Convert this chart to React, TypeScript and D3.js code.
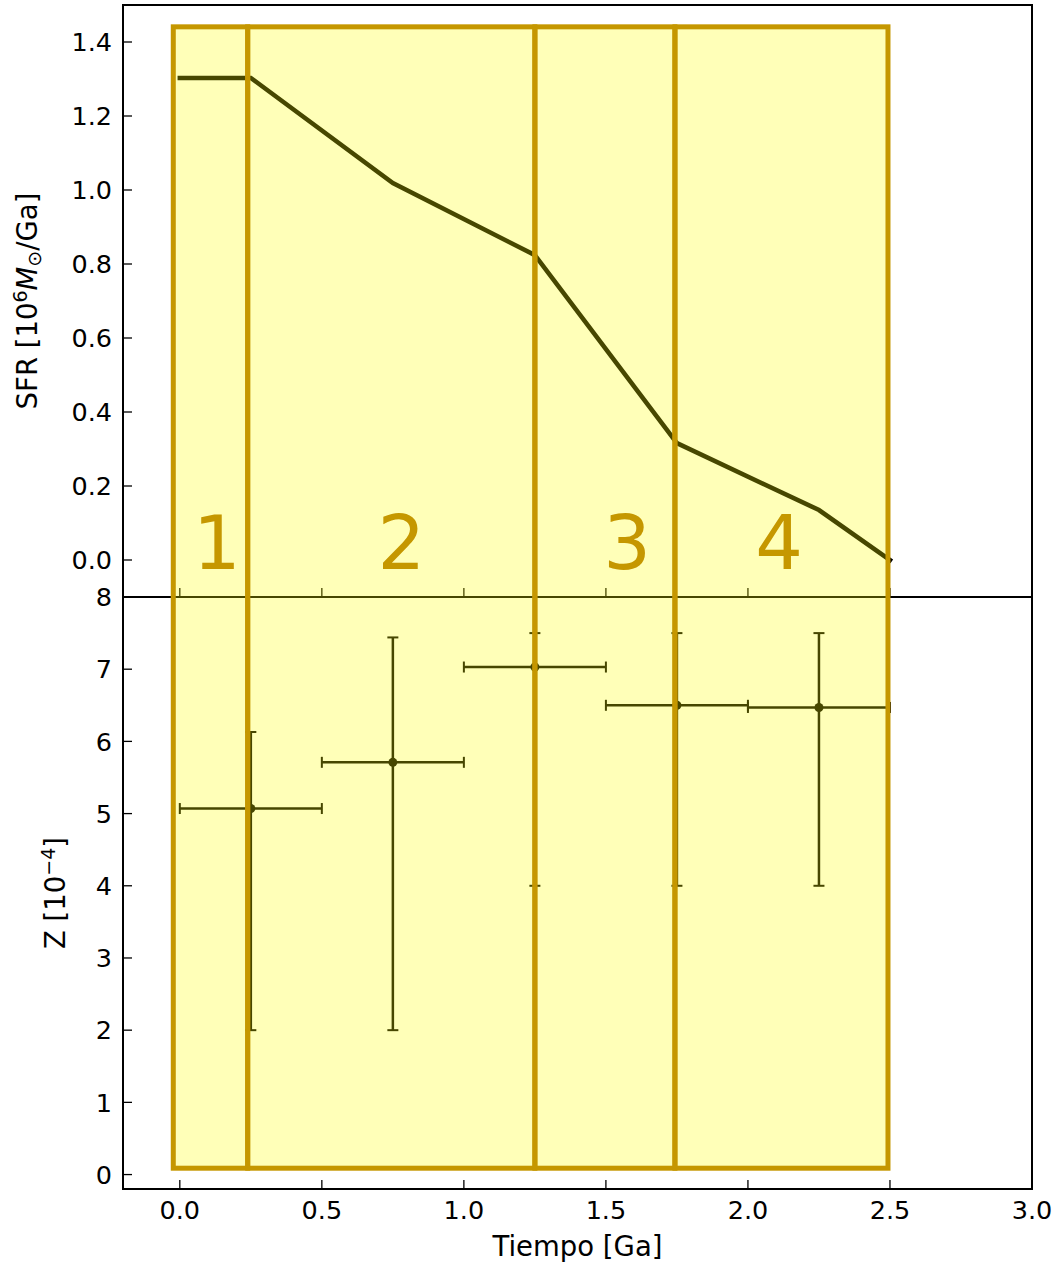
import React from "react";
import * as d3 from "d3";

// ---- data ----
const sfrTime = [0.0, 0.25, 0.75, 1.25, 1.75, 2.25, 2.5];
const sfrValue = [1.303, 1.303, 1.019, 0.824, 0.316, 0.135, 0.0];

const zTime = [0.25, 0.75, 1.25, 1.75, 2.25];
const zValue = [5.07, 5.71, 7.03, 6.5, 6.47];
const zLower = [2.0, 2.0, 4.0, 4.0, 4.0];
const zUpper = [6.13, 7.44, 7.5, 7.5, 7.5];
const zTimeErr = [0.25, 0.25, 0.25, 0.25, 0.25];

const regionBounds = [-0.023, 0.239, 1.25, 1.743, 2.493];
const regionTop = 1.441; // in SFR units
const regionBottom = 0.088; // in Z units
const regionLabels = ["1", "2", "3", "4"];
const regionLabelX = [0.13, 0.78, 1.575, 2.11];
const regionLabelY = -0.024; // in SFR units

const xTicks = [0.0, 0.5, 1.0, 1.5, 2.0, 2.5, 3.0];
const sfrTicks = [0.0, 0.2, 0.4, 0.6, 0.8, 1.0, 1.2, 1.4];
const zTicks = [0, 1, 2, 3, 4, 5, 6, 7, 8];

const FONT = "DejaVu Sans";
const GOLD = "#c59700";

export default function App() {
  const W = 1060;
  const H = 1263;
  const left = 123, right = 1032;
  const topY0 = 5, midY = 597, botY1 = 1189;

  const x = d3.scaleLinear().domain([-0.2, 3.0]).range([left, right]);
  const yTop = d3.scaleLinear().domain([-0.1, 1.5]).range([midY, topY0]);
  const yBot = d3.scaleLinear().domain([-0.2, 8]).range([botY1, midY]);

  const line = d3
    .line<number>()
    .x((_, i) => x(sfrTime[i]))
    .y((d) => yTop(d));

  const fmt1 = d3.format(".1f");
  const tickLen = 9;
  const fs = 25.5;
  const lfs = 27.5;
  const sfs = 19;

  const rectTop = yTop(regionTop);
  const rectBot = yBot(regionBottom);

  return (
    <div style={{ position: "absolute", left: 0, top: 0 }}>
      <svg width={W} height={H} style={{ display: "block", background: "#fff" }} fontFamily={FONT}>
        {/* frames */}
        <rect x={left} y={topY0} width={right - left} height={midY - topY0} fill="none" stroke="#000" strokeWidth={2} />
        <rect x={left} y={midY} width={right - left} height={botY1 - midY} fill="none" stroke="#000" strokeWidth={2} />

        {/* top y ticks */}
        {sfrTicks.map((t) => (
          <g key={"st" + t}>
            <line x1={left} x2={left + tickLen} y1={yTop(t)} y2={yTop(t)} stroke="#000" strokeWidth={1.3} />
            <text x={left - 11} y={yTop(t)} dy="0.36em" textAnchor="end" fontSize={fs}>
              {fmt1(t)}
            </text>
          </g>
        ))}
        {/* bottom y ticks */}
        {zTicks.map((t) => (
          <g key={"zt" + t}>
            <line x1={left} x2={left + tickLen} y1={yBot(t)} y2={yBot(t)} stroke="#000" strokeWidth={1.3} />
            <text x={left - 11} y={yBot(t)} dy="0.36em" textAnchor="end" fontSize={fs}>
              {t}
            </text>
          </g>
        ))}
        {/* x ticks, both panels */}
        {xTicks.map((t) => (
          <g key={"xt" + t}>
            <line x1={x(t)} x2={x(t)} y1={midY} y2={midY - tickLen} stroke="#000" strokeWidth={1.3} />
            <line x1={x(t)} x2={x(t)} y1={botY1} y2={botY1 - tickLen} stroke="#000" strokeWidth={1.3} />
            <text x={x(t)} y={botY1 + 30} textAnchor="middle" fontSize={fs}>
              {fmt1(t)}
            </text>
          </g>
        ))}

        {/* axis labels */}
        <text transform={`translate(37, ${(topY0 + midY) / 2}) rotate(-90)`} textAnchor="middle" fontSize={lfs}>
          SFR [10
          <tspan dy={-10} fontSize={sfs}>6</tspan>
          <tspan dy={10} fontStyle="italic">M</tspan>
          <tspan dy={4} fontSize={sfs}>⊙</tspan>
          <tspan dy={-4}>/Ga]</tspan>
        </text>
        <text transform={`translate(65, ${(midY + botY1) / 2}) rotate(-90)`} textAnchor="middle" fontSize={lfs}>
          Z [10
          <tspan dy={-10} fontSize={sfs}>−4</tspan>
          <tspan dy={10}>]</tspan>
        </text>
        <text x={(left + right) / 2} y={1256} textAnchor="middle" fontSize={lfs}>
          Tiempo [Ga]
        </text>

        {/* SFR line */}
        <path d={line(sfrValue) || ""} fill="none" stroke="#000" strokeWidth={4.5} strokeLinecap="square" strokeLinejoin="miter" />

        {/* Z error bars */}
        {zTime.map((t, i) => {
          const cx = x(t);
          const cy = yBot(zValue[i]);
          const xl = x(t - zTimeErr[i]);
          const xr = x(t + zTimeErr[i]);
          const yl = yBot(zLower[i]);
          const yu = yBot(zUpper[i]);
          const cap = 5.5;
          return (
            <g key={"eb" + i} stroke="#000" strokeWidth={2.5}>
              <line x1={xl} x2={xr} y1={cy} y2={cy} />
              <line x1={cx} x2={cx} y1={yl} y2={yu} />
              <line x1={xl} x2={xl} y1={cy - cap} y2={cy + cap} strokeWidth={2} />
              <line x1={xr} x2={xr} y1={cy - cap} y2={cy + cap} strokeWidth={2} />
              <line x1={cx - cap} x2={cx + cap} y1={yl} y2={yl} strokeWidth={2} />
              <line x1={cx - cap} x2={cx + cap} y1={yu} y2={yu} strokeWidth={2} />
              <circle cx={cx} cy={cy} r={4.5} fill="#000" stroke="none" />
            </g>
          );
        })}

        {/* translucent region overlays */}
        {regionBounds.slice(0, -1).map((b, i) => (
          <rect
            key={"rf" + i}
            x={x(b)}
            y={rectTop}
            width={x(regionBounds[i + 1]) - x(b)}
            height={rectBot - rectTop}
            fill="#ffff00"
            fillOpacity={0.28}
            stroke="none"
          />
        ))}
        {regionBounds.slice(0, -1).map((b, i) => (
          <rect
            key={"rs" + i}
            x={x(b)}
            y={rectTop}
            width={x(regionBounds[i + 1]) - x(b)}
            height={rectBot - rectTop}
            fill="none"
            stroke={GOLD}
            strokeWidth={5}
          />
        ))}

        {/* region labels */}
        {regionLabels.map((lab, i) => (
          <text key={"rl" + i} x={x(regionLabelX[i])} y={yTop(regionLabelY)} textAnchor="middle" fontSize={75} fill={GOLD}>
            {lab}
          </text>
        ))}
      </svg>
    </div>
  );
}
